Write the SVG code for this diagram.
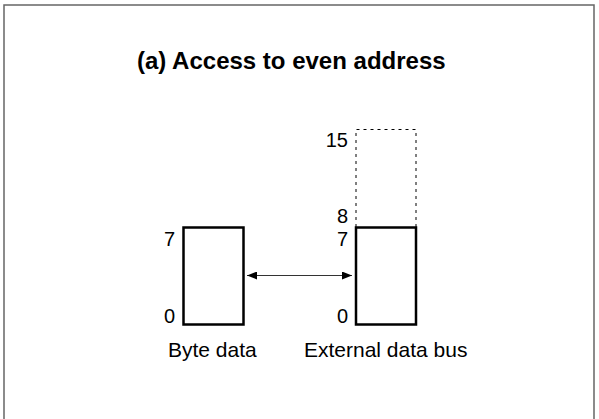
<svg xmlns="http://www.w3.org/2000/svg" width="599" height="419" viewBox="0 0 599 419">
<style>
  .t{font-family:"Liberation Sans",Arial,sans-serif;fill:#000}
  .title{font-size:24px;font-weight:bold}
  .lbl{font-size:21px}
  .num{font-size:20px;text-anchor:end}
  .box{fill:#fff;stroke:#000;stroke-width:2.5}
  .dash{fill:none;stroke:#000;stroke-width:1;stroke-dasharray:3 4}
</style>
<defs>
  <marker id="ah" viewBox="0 0 10 8" refX="10" refY="4" markerWidth="10" markerHeight="8" markerUnits="userSpaceOnUse" orient="auto-start-reverse">
    <path d="M0,0 L10,4 L0,8 Z" fill="#000"/>
  </marker>
</defs>
<rect width="599" height="419" fill="#fff"/>
<path d="M4,425 V5 H594 V425" fill="none" stroke="#666" stroke-width="1.5"/>
<text class="t title" x="137" y="69">(a) Access to even address</text>
<g id="byte-data">
  <rect class="box" x="183.5" y="227.5" width="60" height="97"/>
  <text class="t num" x="175" y="246">7</text>
  <text class="t num" x="175" y="322.5">0</text>
  <text class="t lbl" x="168" y="357">Byte data</text>
</g>
<g id="external-bus">
  <path class="dash" d="M356,227 V129.5 H416 V227"/>
  <rect class="box" x="356" y="227.5" width="60" height="97"/>
  <text class="t num" x="348" y="147">15</text>
  <text class="t num" x="348" y="222.5">8</text>
  <text class="t num" x="348" y="246">7</text>
  <text class="t num" x="348" y="322.5">0</text>
  <text class="t lbl" x="304" y="357">External data bus</text>
</g>
<g id="connectors">
  <line x1="247" y1="275.5" x2="352" y2="275.5" stroke="#333" stroke-width="1.2" marker-start="url(#ah)" marker-end="url(#ah)"/>
</g>
</svg>
